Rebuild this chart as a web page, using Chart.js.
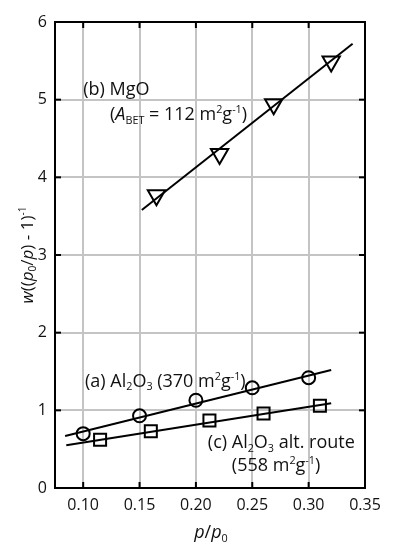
<!DOCTYPE html>
<html><head><meta charset="utf-8">
<script src="https://cdn.jsdelivr.net/npm/chart.js@4"></script>
<style>html,body{margin:0;padding:0;background:#fff;}#wrap{width:394px;height:550px;}</style>
</head><body><div id="wrap"><canvas id="c" width="394" height="550"></canvas></div>
<script>
// ---- data ----
const xTicks = [0.10, 0.15, 0.20, 0.25, 0.30, 0.35];
const yTicks = [0, 1, 2, 3, 4, 5, 6];
const aX = [0.10, 0.15, 0.20, 0.25, 0.30];
const aY = [0.70, 0.93, 1.13, 1.29, 1.42];
const aFitX = [0.084, 0.320];
const aFitY = [0.67, 1.52];
const bX = [0.165, 0.221, 0.269, 0.320];
const bY = [3.77, 4.30, 4.94, 5.49];
const bFitX = [0.152, 0.339];
const bFitY = [3.58, 5.72];
const cX = [0.115, 0.160, 0.212, 0.260, 0.310];
const cY = [0.62, 0.73, 0.87, 0.96, 1.06];
const cFitX = [0.085, 0.320];
const cFitY = [0.55, 1.09];

const FONT = "'Open Sans', sans-serif";

function pts(xs, ys){ return xs.map((x,i)=>({x:x, y:ys[i]})); }

// rich text annotations (anchor in data units: left edge, baseline)
const labels = [
  {x:0.1001, y:5.06, segs:[{t:'(b) MgO'}]},
  {x:0.1238, y:4.735, segs:[{t:'('},{t:'A',i:1},{t:'BET',sub:1},{t:' = 112 m'},{t:'2',sup:1},{t:'g'},{t:'-1',sup:1},{t:')'}]},
  {x:0.1016, y:1.304, segs:[{t:'(a) Al'},{t:'2',sub:1},{t:'O'},{t:'3',sub:1},{t:' (370 m'},{t:'2',sup:1},{t:'g'},{t:'-1',sup:1},{t:')'}]},
  {x:0.2106, y:0.51, segs:[{t:'(c) Al'},{t:'2',sub:1},{t:'O'},{t:'3',sub:1},{t:' alt. route'}]},
  {x:0.2319, y:0.219, segs:[{t:'(558 m'},{t:'2',sup:1},{t:'g'},{t:'-1',sup:1},{t:')'}]}
];
const yTitle = [{t:'w',i:1},{t:'(('},{t:'p',i:1},{t:'0',sub:1},{t:'/'},{t:'p',i:1},{t:') - 1)'},{t:'-1',sup:1}];
const xTitle = [{t:'p',i:1},{t:'/'},{t:'p',i:1},{t:'0',sub:1}];

function segFont(s, size){
  const sz = (s.sub||s.sup) ? size*0.6 : size;
  return (s.i?'italic ':'') + sz + 'px ' + FONT;
}
function richWidth(ctx, segs, size){
  let w=0; segs.forEach(s=>{ctx.font=segFont(s,size); w+=ctx.measureText(s.t).width;}); return w;
}
function drawRich(ctx, segs, x, y, size){
  let cx=x;
  segs.forEach(s=>{
    ctx.font=segFont(s,size);
    let dy=0; if(s.sub) dy=size*0.2; if(s.sup) dy=-size*0.4;
    ctx.fillText(s.t, cx, y+dy);
    cx+=ctx.measureText(s.t).width;
  });
}
const LSIZE = 18;

const textPlugin = {
  id:'texts',
  beforeDatasetsDraw(chart){
    const ctx=chart.ctx, xs=chart.scales.x, ys=chart.scales.y;
    ctx.save();
    ctx.textBaseline='alphabetic'; ctx.textAlign='left';
    ctx.fillStyle='#111';
    labels.forEach(l=>{
      drawRich(ctx,l.segs,xs.getPixelForValue(l.x),ys.getPixelForValue(l.y),LSIZE);
    });
    ctx.restore();
  },
  afterDraw(chart){
    const ctx=chart.ctx, xs=chart.scales.x, ys=chart.scales.y, ca=chart.chartArea;
    ctx.save();
    // inner ticks
    ctx.strokeStyle='#000'; ctx.lineWidth=2;
    const L=6;
    xTicks.forEach(v=>{const px=xs.getPixelForValue(v);
      ctx.beginPath(); ctx.moveTo(px,ca.top); ctx.lineTo(px,ca.top+L); ctx.stroke();
      ctx.beginPath(); ctx.moveTo(px,ca.bottom); ctx.lineTo(px,ca.bottom-L); ctx.stroke();});
    yTicks.forEach(v=>{const py=ys.getPixelForValue(v);
      ctx.beginPath(); ctx.moveTo(ca.left,py); ctx.lineTo(ca.left+L,py); ctx.stroke();
      ctx.beginPath(); ctx.moveTo(ca.right,py); ctx.lineTo(ca.right-L,py); ctx.stroke();});
    ctx.strokeRect(ca.left, ca.top, ca.right-ca.left, ca.bottom-ca.top);
    ctx.fillStyle='#111'; ctx.textBaseline='alphabetic'; ctx.textAlign='left';
    // x title
    const wx=richWidth(ctx,xTitle,18);
    drawRich(ctx,xTitle,211-wx/2,538,18);
    // y title
    const wy=richWidth(ctx,yTitle,17);
    ctx.translate(33,255);
    ctx.rotate(-Math.PI/2);
    drawRich(ctx,yTitle,-wy/2,0,17);
    ctx.restore();
  }
};

const lineDs = (xs,ys)=>({type:'line',data:pts(xs,ys),borderColor:'#000',borderWidth:2,pointRadius:0,fill:false,showLine:true,order:2});
const markDs = (xs,ys,style,rot,r)=>({type:'scatter',data:pts(xs,ys),pointStyle:style,rotation:rot,pointRadius:r,pointBorderWidth:2,
  pointBorderColor:'#000',pointBackgroundColor:'rgba(0,0,0,0)',showLine:false,order:1});

new Chart(document.getElementById('c'),{
  data:{datasets:[
    lineDs(aFitX,aFitY), lineDs(bFitX,bFitY), lineDs(cFitX,cFitY),
    markDs(aX,aY,'circle',0,6.5), markDs(bX,bY,'triangle',180,10), markDs(cX,cY,'rect',0,8.5)
  ]},
  options:{
    responsive:false, animation:false, devicePixelRatio:1,
    layout:{padding:{left:0,right:29,top:22,bottom:0}},
    plugins:{legend:{display:false},tooltip:{enabled:false}},
    scales:{
      x:{type:'linear',min:0.075,max:0.35,
        afterBuildTicks(s){s.ticks=xTicks.map(v=>({value:v}));},
        afterFit(s){s.height=62;},
        grid:{color:'#c4c4c4',lineWidth:2,drawTicks:false},
        border:{display:false},
        ticks:{padding:8,color:'#111',font:{family:FONT,size:16},maxRotation:0,callback:v=>v.toFixed(2)}},
      y:{type:'linear',min:0,max:6,
        afterBuildTicks(s){s.ticks=yTicks.map(v=>({value:v}));},
        afterFit(s){s.width=55;},
        grid:{color:'#c4c4c4',lineWidth:2,drawTicks:false},
        border:{display:false},
        ticks:{padding:8,color:'#111',font:{family:FONT,size:16},callback:v=>String(v)}}
    }
  },
  plugins:[textPlugin]
});
</script></body></html>
